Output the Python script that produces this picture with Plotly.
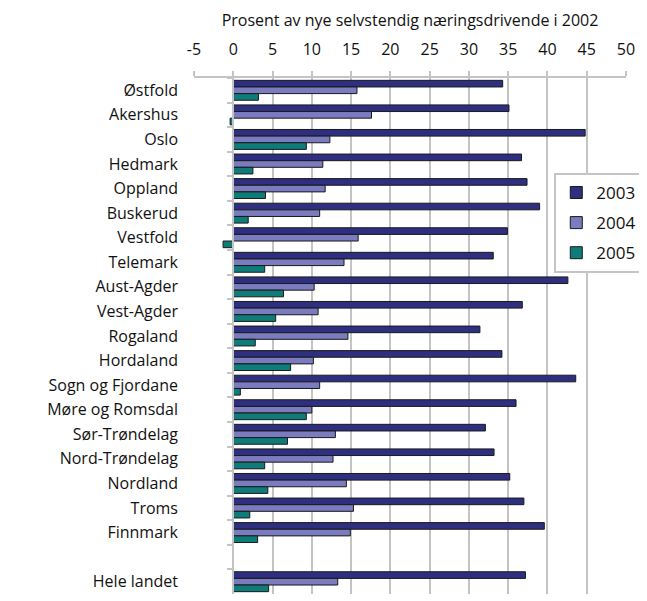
import plotly.graph_objects as go

categories = ["Østfold", "Akershus", "Oslo", "Hedmark", "Oppland", "Buskerud", "Vestfold",
              "Telemark", "Aust-Agder", "Vest-Agder", "Rogaland", "Hordaland",
              "Sogn og Fjordane", "Møre og Romsdal", "Sør-Trøndelag", "Nord-Trøndelag",
              "Nordland", "Troms", "Finnmark", " ", "Hele landet"]

v2003 = [34.3, 35.1, 44.8, 36.7, 37.4, 39.0, 34.9, 33.1, 42.6, 36.8, 31.4, 34.2,
         43.6, 36.0, 32.1, 33.2, 35.2, 37.0, 39.6, None, 37.2]
v2004 = [15.75, 17.6, 12.3, 11.4, 11.7, 11.0, 15.9, 14.1, 10.3, 10.8, 14.6, 10.2,
         11.0, 10.0, 13.0, 12.7, 14.4, 15.3, 14.9, None, 13.3]
v2005 = [3.2, -0.4, 9.3, 2.5, 4.1, 1.9, -1.3, 4.0, 6.4, 5.4, 2.8, 7.3,
         0.9, 9.3, 6.9, 4.0, 4.4, 2.1, 3.1, None, 4.5]

x_tickvals = [-5, 0, 5, 10, 15, 20, 25, 30, 35, 40, 45, 50]
x_ticktext = ["-5", "0", "5", "10", "15", "20", "25", "30", "35", "40", "45", "50"]
x_title = "Prosent av nye selvstendig næringsdrivende i 2002"

series = [("2003", v2003, "#2e2f80"), ("2004", v2004, "#7b7bc0"), ("2005", v2005, "#0f7c7a")]

FONT = "Open Sans"
GRID = "#c4c4c4"
n = len(categories)

fig = go.Figure()
for name, vals, col in series:
    fig.add_trace(go.Bar(
        y=categories, x=vals, name=name, orientation="h",
        marker=dict(color=col, line=dict(color="#1a1a1a", width=1)),
        legendgroup=name,
    ))

# helper trace carrying the category labels on a left-hand overlay axis
fig.add_trace(go.Scatter(y=categories, x=[None] * n, yaxis="y2", mode="markers",
                         showlegend=False, hoverinfo="skip"))

xmin, xmax = x_tickvals[0], x_tickvals[-1]
fig.update_layout(
    width=647, height=601,
    margin=dict(l=186, r=27, t=70, b=15),
    paper_bgcolor="white", plot_bgcolor="white",
    font=dict(family=FONT, size=16, color="#111111"),
    title=dict(text=x_title, font=dict(size=16, color="#111111"),
               xref="paper", x=0.5, xanchor="center",
               yref="container", y=0.98, yanchor="middle"),
    barmode="group", bargap=0.19, bargroupgap=0,
    showlegend=True,
    legend=dict(x=0.834, xanchor="left", y=0.816, yanchor="top",
                bordercolor=GRID, borderwidth=2, bgcolor="white",
                font=dict(size=17), traceorder="grouped", tracegroupgap=5,
                itemwidth=30),
    xaxis=dict(side="top", range=[xmin, xmax], tickmode="array",
               tickvals=x_tickvals, ticktext=x_ticktext, automargin=False,
               showgrid=True, gridcolor=GRID, gridwidth=2,
               showline=True, linecolor=GRID, linewidth=2,
               ticks="outside", ticklen=5, tickwidth=2, tickcolor=GRID,
               zeroline=False, tickfont=dict(size=16), ticklabelstandoff=10),
    yaxis=dict(type="category", categoryorder="array", categoryarray=categories,
               range=[n - 0.5, -0.5], anchor="free", automargin=False,
               position=(0 - xmin) / (xmax - xmin),
               showline=True, linecolor=GRID, linewidth=2,
               ticks="outside", tickson="boundaries", ticklen=5, tickwidth=2,
               tickcolor=GRID, showticklabels=False, showgrid=False, zeroline=False),
    yaxis2=dict(type="category", categoryorder="array", categoryarray=categories,
                range=[n - 0.5, -0.5], overlaying="y", anchor="free", position=0,
                side="left", showline=False, ticks="", showgrid=False, zeroline=False,
                automargin=False, ticklabelstandoff=16, tickfont=dict(size=16)),
)

fig.write_html("out.html")
